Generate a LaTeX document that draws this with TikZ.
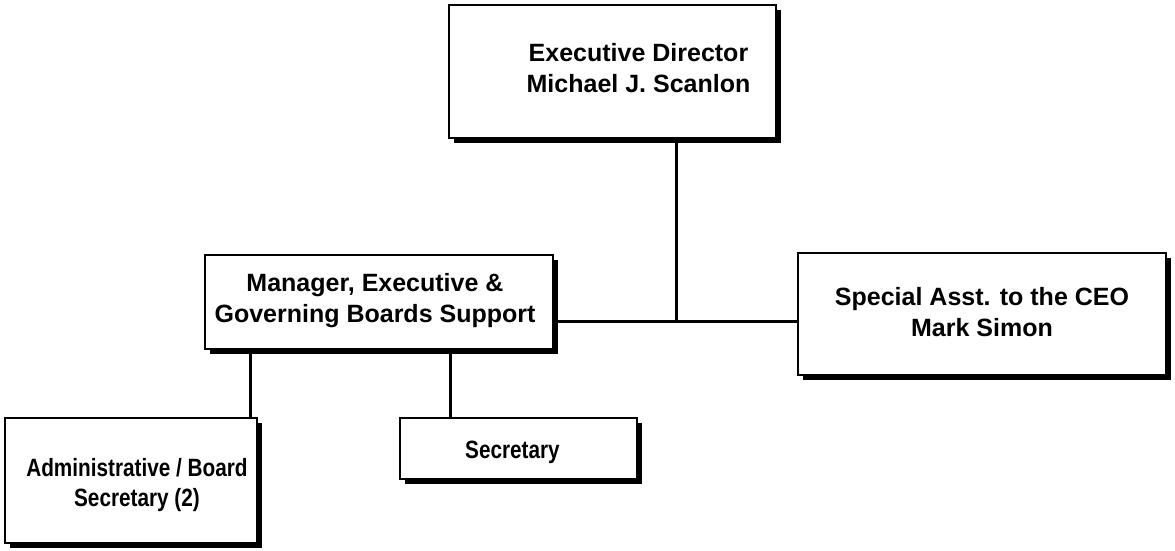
\documentclass[tikz,border=0pt]{standalone}
\usepackage{fontspec}
\setmainfont{Liberation Sans}
\newfontfamily\narrowfont[FakeStretch=0.83]{Liberation Sans}
\usetikzlibrary{shadows,calc}
\begin{document}
\begin{tikzpicture}[x=1pt,y=-1pt,
  box/.style={draw=black, line width=1.5pt, fill=white, inner sep=0pt,
    drop shadow={shadow xshift=5pt, shadow yshift=-5pt, fill=black, opacity=1}},
  lbl/.style={inner sep=0pt, align=center, font=\bfseries\fontsize{25}{31}\selectfont},
  narrowlbl/.style={lbl, font=\narrowfont\bfseries\fontsize{25}{30}\selectfont},
  link/.style={line width=3pt}]
\useasboundingbox (0,0) rectangle (1175,550);

% boxes
\node[box, minimum width=327pt, minimum height=133pt] (ed) at (612.5,71.5) {};
\node[box, minimum width=348pt, minimum height=94pt] (mgr) at (379,302) {};
\node[box, minimum width=368pt, minimum height=122pt] (sp) at (982,314) {};
\node[box, minimum width=252pt, minimum height=125pt] (adm) at (131,480.5) {};
\node[box, minimum width=237pt, minimum height=61pt] (sec) at (518.5,448.5) {};

% titles
\node[lbl] (edt) at ($(ed.center)+(26,-3)$) {Executive Director\\Michael J. Scanlon};
\node[lbl] (mgrt) at ($(mgr.center)+(-4,-1)$) {Manager, Executive \&\\Governing Boards Support};
\node[lbl] (spt) at ($(sp.center)+(0,-2)$) {Special Asst. to the CEO\\Mark Simon};
\node[narrowlbl] (admt) at ($(adm.center)+(6,5)$) {Administrative / Board\\Secretary (2)};
\node[narrowlbl] (sect) at ($(sec.center)+(-6,4)$) {Secretary};

% connectors
\coordinate (j) at (676,321);
\coordinate (ca) at (250,0);
\coordinate (cs) at (450,0);
\draw[link] (ed.south -| j) -- (j);
\draw[link] (mgr.east |- j) -- (sp.west |- j);
\draw[link] (mgr.south -| ca) -- (adm.north -| ca);
\draw[link] (mgr.south -| cs) -- (sec.north -| cs);
\end{tikzpicture}
\end{document}
